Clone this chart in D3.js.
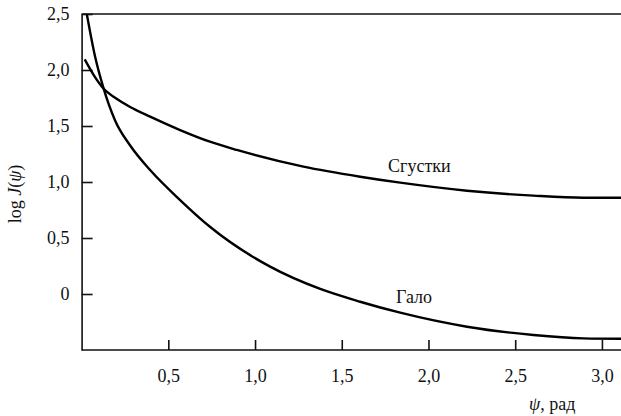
<!DOCTYPE html>
<html>
<head>
<meta charset="utf-8">
<script src="https://cdn.jsdelivr.net/npm/d3@7"></script>
<style>
  body { margin: 0; background: #fff; }
</style>
</head>
<body>
<div id="main"></div>
<script>
// values
const clumpPsi = [0.018, 0.07, 0.125, 0.2, 0.28, 0.395, 0.568, 0.74, 0.895, 1.279, 1.606, 1.837, 2.222, 2.605, 2.893, 3.11];
const clumpLog = [2.095, 1.955, 1.837, 1.745, 1.67, 1.583, 1.464, 1.36, 1.286, 1.137, 1.047, 0.994, 0.922, 0.878, 0.86, 0.86];
const haloPsi = [0.03, 0.077, 0.125, 0.193, 0.28, 0.395, 0.568, 0.74, 1.087, 1.376, 1.606, 1.837, 2.222, 2.605, 2.893, 3.11];
const haloLog = [2.5, 2.125, 1.845, 1.55, 1.326, 1.107, 0.839, 0.6, 0.244, 0.045, -0.069, -0.167, -0.292, -0.366, -0.396, -0.40];
const xTicks = [0.5, 1.0, 1.5, 2.0, 2.5, 3.0];
const yTicks = [0, 0.5, 1.0, 1.5, 2.0, 2.5];
const seriesNames = ["Сгустки", "Гало"];

const serif = "'Liberation Serif'";

let width = 621, height = 416;
let svg = d3.select("#main").append("svg")
	.attr("width", width)
	.attr("height", height);

let x = d3.scaleLinear().domain([0, 3.11]).range([81.6, 621]);
let y = d3.scaleLinear().domain([-0.5, 2.5]).range([350, 14]);

let fmt = d => d === 0 ? "0" : d3.format(".1f")(d).replace(".", ",");

// left axis, ticks pointing inward
let yAxis = svg.append("g")
	.attr("transform", "translate(" + x(0) + ",0)")
	.call(d3.axisLeft(y).tickValues(yTicks).tickSizeInner(-11).tickSizeOuter(0).tickPadding(12).tickFormat(fmt));

let xAxis = svg.append("g")
	.attr("transform", "translate(0," + y(-0.5) + ")")
	.call(d3.axisBottom(x).tickValues(xTicks).tickSizeInner(-10).tickSizeOuter(0).tickPadding(19).tickFormat(fmt));

[yAxis, xAxis].forEach(g => {
	g.attr("font-family", null).attr("font-size", null);
	g.selectAll("path, line").attr("stroke", "#111").attr("stroke-width", 1.6);
	g.selectAll("text").style("font-family", serif).style("font-size", "18px").attr("fill", "#111");
});
xAxis.select(".domain").attr("d", "M" + x(0) + ",0H621");

// top frame line
svg.append("line")
	.attr("x1", x(0)).attr("x2", 621)
	.attr("y1", y(2.5)).attr("y2", y(2.5))
	.attr("stroke", "#111").attr("stroke-width", 1.6);

svg.append("clipPath").attr("id", "plot")
	.append("rect").attr("x", x(0)).attr("y", y(2.5)).attr("width", 621 - x(0)).attr("height", y(-0.5) - y(2.5));

let line = d3.line().x(d => x(d[0])).y(d => y(d[1])).curve(d3.curveMonotoneX);

svg.append("path")
	.datum(d3.zip(clumpPsi, clumpLog))
	.attr("d", line)
	.attr("clip-path", "url(#plot)")
	.attr("fill", "none").attr("stroke", "#000").attr("stroke-width", 2.4);

svg.append("path")
	.datum(d3.zip(haloPsi, haloLog))
	.attr("d", line)
	.attr("clip-path", "url(#plot)")
	.attr("fill", "none").attr("stroke", "#000").attr("stroke-width", 2.4);

let label = (px, py) => svg.append("text")
	.attr("x", px).attr("y", py)
	.style("font-family", serif)
	.style("font-size", "18px")
	.attr("fill", "#111");

// curve labels
label(388, 172).text(seriesNames[0]);
label(396, 303).text(seriesNames[1]);

// axis titles
let yt = svg.append("text")
	.attr("transform", "translate(21,194) rotate(-90)")
	.attr("text-anchor", "middle")
	.style("font-family", serif)
	.style("font-size", "18px")
	.attr("fill", "#111");
yt.append("tspan").text("log ");
yt.append("tspan").style("font-style", "italic").text("J");
yt.append("tspan").text("(");
yt.append("tspan").style("font-style", "italic").text("ψ");
yt.append("tspan").text(")");

let xt = label(529, 410);
xt.append("tspan").style("font-style", "italic").text("ψ");
xt.append("tspan").text(", рад");
</script>
</body>
</html>
